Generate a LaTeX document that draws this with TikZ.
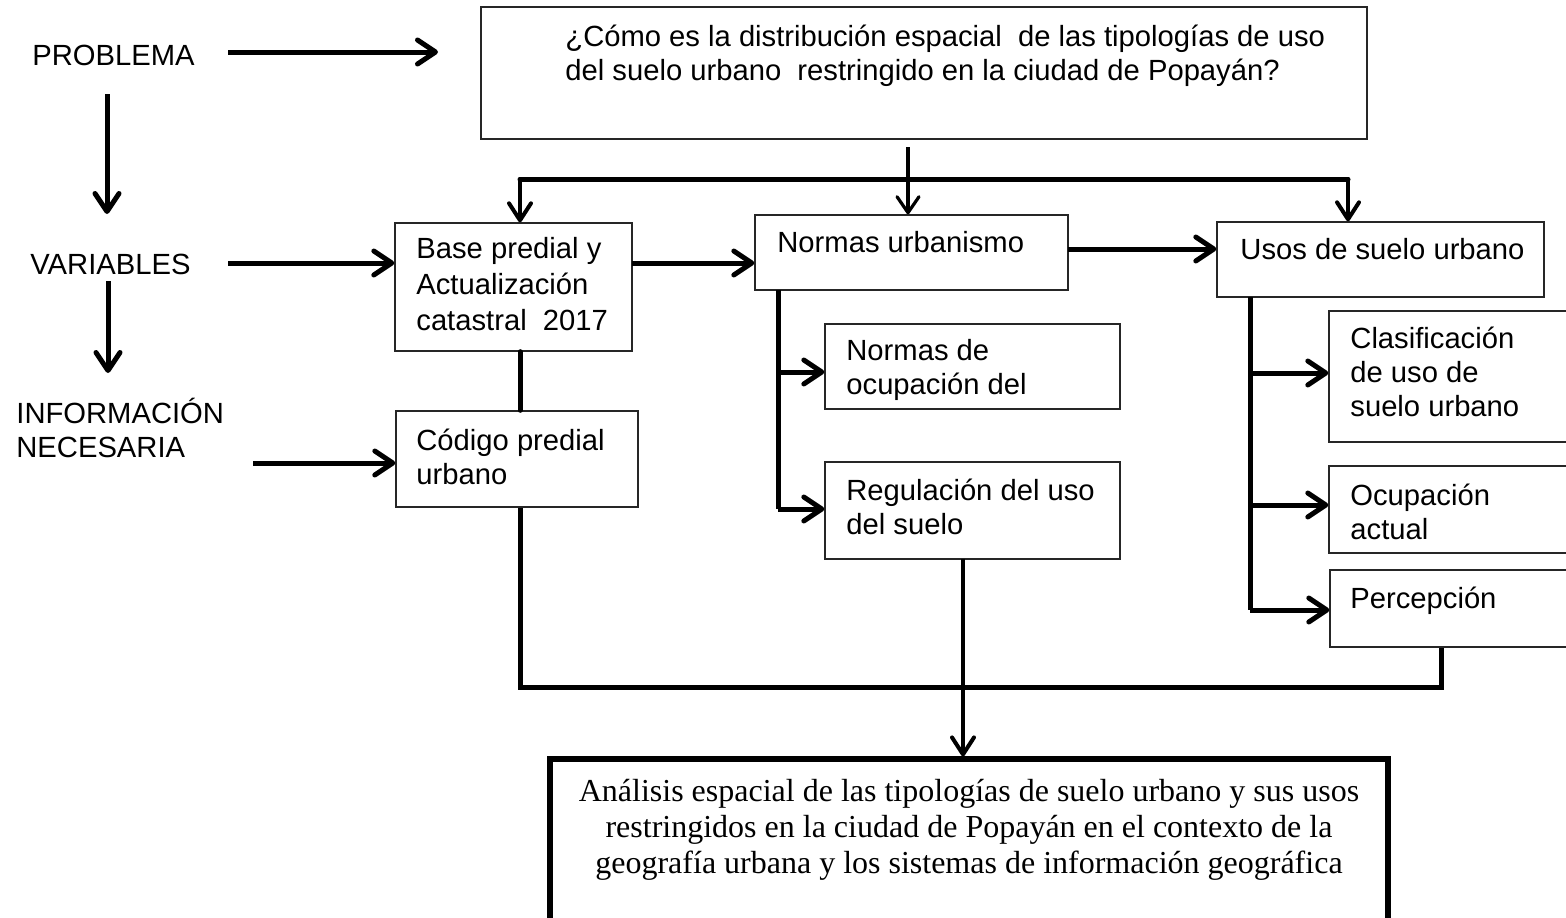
\documentclass[tikz,border=0pt]{standalone}
\usepackage{fontspec}
\setmainfont{Liberation Sans}
\newfontfamily\timesfont{Liberation Serif}
\usetikzlibrary{arrows.meta,fit}
\begin{document}
\begin{tikzpicture}[x=0.5pt,y=-0.5pt,
  box/.style={draw=black!85,line width=0.7pt,inner sep=0pt,fit=#1},
  bigbox/.style={draw=black,line width=2.6pt,inner sep=0pt,fit=#1},
  txt/.style={anchor=north west,inner sep=0pt,align=left,font=\fontsize{14.6}{17}\selectfont},
  txtone/.style={anchor=base west,inner sep=0pt,font=\fontsize{14.6}{17}\selectfont},
  conn/.style={line width=2.5pt,line cap=round},
  arr/.style={line width=2.5pt,-{Straight Barb[length=9pt,width=12pt,round]}},
  thinarr/.style={line width=1.6pt,-{Straight Barb[length=8pt,width=11pt,round]}},
  midarr/.style={line width=2pt,-{Straight Barb[length=8.5pt,width=11pt,round]}}
]
\useasboundingbox (0,0) rectangle (1566,917);
\newcommand{\fs}{\rule{0pt}{14pt}}
% box corners
\coordinate (q1) at (481,7);   \coordinate (q2) at (1367,139);
\coordinate (b1) at (395,223); \coordinate (b2) at (632,351);
\coordinate (c1) at (396,411); \coordinate (c2) at (638,507);
\coordinate (n1) at (755,215); \coordinate (n2) at (1068,290);
\coordinate (u1) at (1217,222);\coordinate (u2) at (1544,297);
\coordinate (no1) at (825,324);\coordinate (no2) at (1120,409);
\coordinate (r1) at (825,462); \coordinate (r2) at (1120,559);
\coordinate (cl1) at (1329,311);\coordinate (cl2) at (1600,442);
\coordinate (oc1) at (1329,466);\coordinate (oc2) at (1600,553);
\coordinate (pe1) at (1330,570);\coordinate (pe2) at (1600,647);
\coordinate (an1) at (550,759); \coordinate (an2) at (1388,980);
% boxes
\node[box={(q1)(q2)}] (q) {};
\node[box={(b1)(b2)}] (base) {};
\node[box={(c1)(c2)}] (cod) {};
\node[box={(n1)(n2)}] (norm) {};
\node[box={(u1)(u2)}] (usos) {};
\node[box={(no1)(no2)}] (normde) {};
\node[box={(r1)(r2)}] (reg) {};
\node[box={(cl1)(cl2)}] (clas) {};
\node[box={(oc1)(oc2)}] (ocup) {};
\node[box={(pe1)(pe2)}] (perc) {};
\node[bigbox={(an1)(an2)}] (anal) {};
% texts
\node[txtone] (prob) at (32,65) {PROBLEMA};
\node[txtone] (var) at (30,274) {VARIABLES};
\node[txt] (info) at (16,395) {\fs INFORMACIÓN\\NECESARIA};
\node[txt] (qt) at (565,18) {\fs ¿Cómo es la distribución espacial\ \ de las tipologías de uso\\del suelo urbano\ \ restringido en la ciudad de Popayán?};
\node[txt,font=\fontsize{14.6}{18}\selectfont] (bt) at (416,230) {\fs Base predial y\\Actualización\\catastral\ \ 2017};
\node[txt] (ct) at (416,422) {\fs Código predial\\urbano};
\node[txtone] (nt) at (777,252) {Normas urbanismo};
\node[txtone] (ut) at (1240,259) {Usos de suelo urbano};
\node[txt] (nodt) at (846,332) {\fs Normas de\\ocupación del};
\node[txt] (rt) at (846,472) {\fs Regulación del uso\\del suelo};
\node[txt] (clt) at (1350,320) {\fs Clasificación\\de uso de\\suelo urbano};
\node[txt] (oct) at (1350,477) {\fs Ocupación\\actual};
\node[txtone] (pt) at (1350,608) {Percepción};
\node[anchor=north,inner sep=0pt,align=center,font=\timesfont\fontsize{16}{18}\selectfont] (at) at (969,773)
  {\fs Análisis espacial de las tipologías de suelo urbano y sus usos\\restringidos en la ciudad de Popayán en el contexto de la\\geografía urbana y los sistemas de información geográfica};
% left column arrows
\coordinate (pa1) at (228,52);  \coordinate (pa2) at (438,52);
\coordinate (pv1) at (107,94);  \coordinate (pv2) at (107,214);
\coordinate (va1) at (228,263); \coordinate (vv1) at (108,281); \coordinate (vv2) at (108,373);
\coordinate (ia1) at (253,463);
\draw[arr] (pa1) -- (pa2);
\draw[arr] (pv1) -- (pv2);
\draw[arr] (va1) -- (va1 -| base.west);
\draw[arr] (vv1) -- (vv2);
\draw[arr] (ia1) -- (ia1 -| cod.west);
% top bus
\coordinate (busL) at (520,179); \coordinate (busR) at (1348,179);
\coordinate (qd) at (908,147);
\draw[thinarr] (qd) -- (qd |- norm.north);
\draw[conn] (busL) -- (busR);
\draw[midarr] (busL) -- (busL |- base.north);
\draw[midarr] (busR) -- (busR |- usos.north);
% horizontal arrows between variables
\coordinate (bn) at (632,263);
\draw[arr] (bn) -- (bn -| norm.west);
\coordinate (nu) at (1068,249);
\draw[arr] (nu) -- (nu -| usos.west);
% Base / Código trunk and bottom bus
\coordinate (bt1) at (520,351);
\draw[conn] (bt1 |- base.south) -- (bt1 |- cod.north);
\coordinate (bot) at (520,687); \coordinate (botR) at (1441,687);
\draw[conn,line cap=butt] (bot |- cod.south) -- (bot) -- (botR) -- (botR |- perc.south);
% Normas trunk
\coordinate (nt1) at (778,290); \coordinate (nb1) at (778,372); \coordinate (nb2) at (778,509);
\draw[conn,line cap=butt] (nt1) -- (nb2);
\draw[arr] (nb1) -- (nb1 -| normde.west);
\draw[arr] (nb2) -- (nb2 -| reg.west);
% Regulacion down to analysis
\coordinate (rd) at (963,559);
\draw[midarr] (rd) -- (rd |- anal.north);
% Usos trunk
\coordinate (ut1) at (1250,297); \coordinate (ub1) at (1250,373); \coordinate (ub2) at (1250,505); \coordinate (ub3) at (1250,610);
\draw[conn,line cap=butt] (ut1) -- (ub3);
\draw[arr] (ub1) -- (ub1 -| clas.west);
\draw[arr] (ub2) -- (ub2 -| ocup.west);
\draw[arr] (ub3) -- (ub3 -| perc.west);
\end{tikzpicture}
\end{document}
